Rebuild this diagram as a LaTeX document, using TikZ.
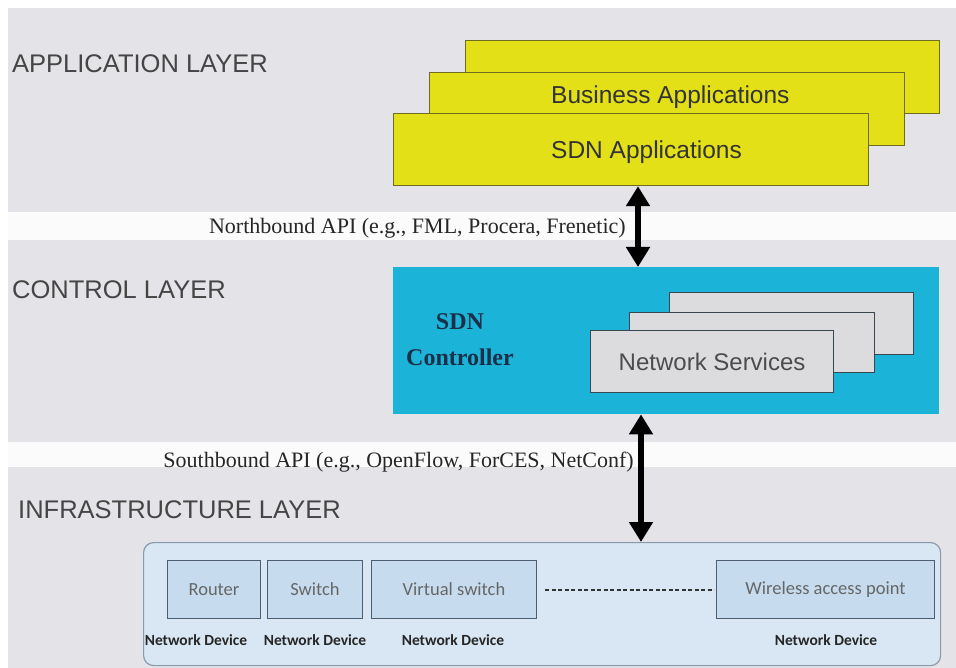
\documentclass[tikz,border=0pt]{standalone}
\usepackage{fontspec}
\setmainfont{Liberation Serif}
\newfontfamily\arialf{Liberation Sans}
\newfontfamily\calf{Carlito}
\usetikzlibrary{arrows.meta}
\definecolor{bandgray}{HTML}{E4E4E8}
\definecolor{gapwhite}{HTML}{FBFBFB}
\definecolor{appyellow}{HTML}{E4E018}
\definecolor{appborder}{HTML}{6E6C1E}
\definecolor{ctrlcyan}{HTML}{1CB3D8}
\definecolor{nsgray}{HTML}{DCDCDE}
\definecolor{nsborder}{HTML}{3A4650}
\definecolor{navytext}{HTML}{1A3048}
\definecolor{infrafill}{HTML}{D8E7F3}
\definecolor{infraborder}{HTML}{8A9AAA}
\definecolor{devfill}{HTML}{C6DCEE}
\definecolor{devborder}{HTML}{4E5E6E}
\definecolor{labelgray}{HTML}{454545}
\tikzset{
  layerlabel/.style={anchor=west, font=\arialf\fontsize{25.5}{30}\selectfont, text=labelgray, inner sep=0pt},
  appbox/.style={draw=appborder, fill=appyellow, line width=1.2pt, anchor=north west, inner sep=0pt},
  apptext/.style={anchor=west, font=\arialf\fontsize{24.5}{28}\selectfont, text=black!80, inner sep=0pt},
  nsbox/.style={draw=nsborder, fill=nsgray, line width=1.2pt, anchor=north west, inner sep=0pt},
  devbox/.style={draw=devborder, fill=devfill, line width=1pt, anchor=north west, inner sep=0pt,
    font=\calf\fontsize{18.5}{22}\selectfont, text=black!60},
  devlabel/.style={font=\calf\bfseries\fontsize{15.5}{18}\selectfont, text=black!85, inner sep=0pt},
  apitext/.style={font=\fontsize{22}{26}\selectfont, text=black!85, inner sep=0pt},
  biarrow/.style={line width=6pt, {Triangle[width=23pt,length=20pt]}-{Triangle[width=23pt,length=20pt]}},
}
\begin{document}
\begin{tikzpicture}[x=1pt,y=-1pt]
\useasboundingbox (0,0) rectangle (956,668);
\fill[white] (0,0) rectangle (956,668);
% bands
\fill[bandgray] (8,8) rectangle (956,212);
\fill[gapwhite] (8,212) rectangle (956,240);
\fill[bandgray] (8,240) rectangle (956,442);
\fill[gapwhite] (8,442) rectangle (956,467);
\fill[bandgray] (8,467) rectangle (956,668);
% layer labels
\node[layerlabel] (applabel) at (12,64) {APPLICATION LAYER};
\node[layerlabel] (ctrllabel) at (12,290) {CONTROL LAYER};
\node[layerlabel] (infralabel) at (18,510) {INFRASTRUCTURE LAYER};
% application boxes
\node[appbox, minimum width=474pt, minimum height=73pt] (appback) at (465,40) {};
\node[appbox, minimum width=475pt, minimum height=73pt] (appmid) at (429,72) {};
\node[appbox, minimum width=475pt, minimum height=72pt] (sdnapp) at (393,113) {};
\node[apptext] (bizt) at (551,97) {Business Applications};
\node[apptext] (sdnt) at (551,152) {SDN Applications};
% control box
\node[draw=none, fill=ctrlcyan, anchor=north west, minimum width=546pt, minimum height=147pt, inner sep=0pt] (ctrl) at (393,267) {};
\node[align=center, font=\bfseries\fontsize{24}{36}\selectfont, text=navytext, inner sep=0pt] (ctrlt) at (460,340) {SDN\\Controller};
\node[nsbox, minimum width=244pt, minimum height=62pt] (nsback) at (669,292) {};
\node[nsbox, minimum width=245pt, minimum height=60pt] (nsmid) at (629,312) {};
\node[nsbox, minimum width=243pt, minimum height=62pt, font=\arialf\fontsize{24}{28}\selectfont, text=black!70] (ns) at (590,330) {Network Services};
% infrastructure
\node[draw=infraborder, fill=infrafill, line width=1.2pt, rounded corners=10pt, anchor=north west, minimum width=797pt, minimum height=123pt, inner sep=0pt] (infra) at (143,542) {};
\node[devbox, minimum width=93pt, minimum height=58pt] (router) at (167,560) {Router};
\node[devbox, minimum width=95pt, minimum height=58pt] (switch) at (267,560) {Switch};
\node[devbox, minimum width=165pt, minimum height=58pt] (vswitch) at (371,560) {Virtual switch};
\node[devbox, minimum width=218pt, minimum height=58pt] (wap) at (716,560) {Wireless access point};
\draw[line width=2pt, dash pattern=on 4pt off 2.5pt, black!80] ([xshift=8pt]vswitch.east) -- ([xshift=-2pt]wap.west);
\node[devlabel] (nd1) at (196,640) {Network Device};
\node[devlabel] (nd2) at (315,640) {Network Device};
\node[devlabel] (nd3) at (453,640) {Network Device};
\node[devlabel] (nd4) at (826,640) {Network Device};
% APIs
\coordinate (nbx) at (638,0);
\coordinate (sbx) at (641,0);
\draw[biarrow] (sdnapp.south -| nbx) -- (ctrl.north -| nbx);
\draw[biarrow] (ctrl.south -| sbx) -- (infra.north -| sbx);
\node[apitext, anchor=east] (nbt) at (626,228) {Northbound API (e.g., FML, Procera, Frenetic)};
\node[apitext, anchor=east] (sbt) at (634,462) {Southbound API (e.g., OpenFlow, ForCES, NetConf)};
\end{tikzpicture}
\end{document}
